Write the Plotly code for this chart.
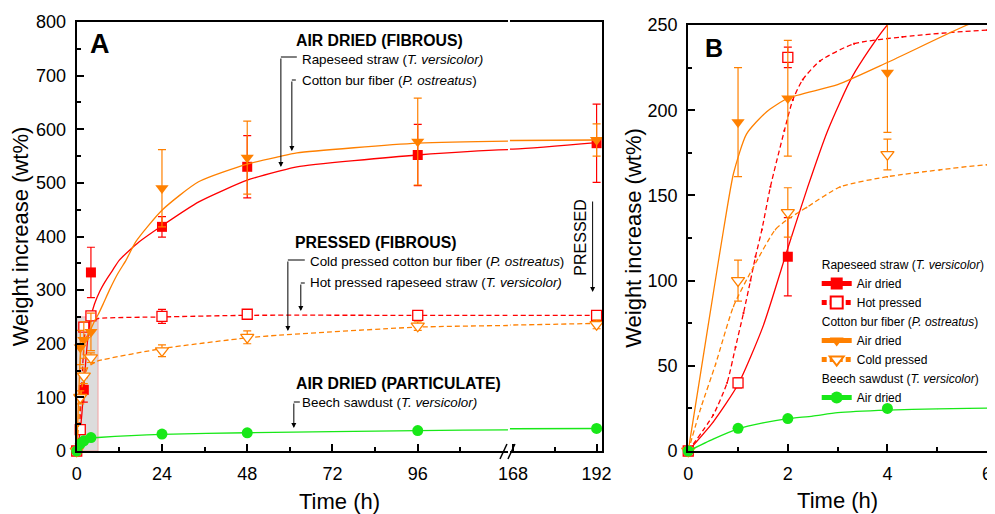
import plotly.graph_objects as go

# the page body has an 8 px margin, so the figure is placed at (8, 8) in the 995x514 window
W, H = 995, 514
OFF = 8
FW, FH = W - OFF, H - OFF
FONT = "Liberation Sans, Arial, sans-serif"
RED = "#ff0000"
ORANGE = "#ff8000"
GREEN = "#18e818"

# ---------------- measured data points (time in h, weight increase in wt%) ----------------
t_pts = [0, 1, 2, 4, 24, 48, 96, 192]
rape_air_t = [0, 2, 4, 24, 48, 96, 192]
rape_air = [0, 114, 333, 418, 530, 552, 574]
rape_air_err = [0, 23, 47, 19, 58, 57, 73]
rape_hot = [0, 40, 231, 252, 251, 255, 253, 253]
rape_hot_err = [0, 3, 6, 8, 13, 6, 5, 6]
cot_air = [0, 193, 207, 222, 490, 547, 577, 580]
cot_air_err = [0, 32, 34, 35, 72, 68, 81, 30]
cot_cold = [0, 100, 140, 174, 187, 212, 233, 236]
cot_cold_err = [0, 12, 14.5, 9, 11, 12, 8, 8]
beech = [0, 13.3, 19, 25, 31.5, 34, 38, 42]

# ---------------- fitted curves ----------------
rape_air_fit_t = [0, 0.5, 1, 1.5, 2, 2.4, 2.8, 3.3, 4, 5, 6.5, 8, 10, 12, 17.6, 24, 34.5, 48, 57, 62, 96, 121.4, 168, 192]
rape_air_fit = [0, 17, 39, 73, 119, 155, 188, 220, 250, 274, 298, 316, 336, 356, 390, 420, 465, 505, 522, 530, 552, 562, 563, 575]
rape_hot_fit_t = [0, 0.5, 0.78, 0.95, 1.11, 1.25, 1.35, 1.48, 1.65, 1.93, 2.1, 2.3, 2.65, 3.33, 4.3, 6, 24, 48, 96, 121.4, 168, 192]
rape_hot_fit = [0, 21, 40, 61, 81, 100, 114, 130, 155, 188, 206, 218, 229, 239, 243, 247, 250, 253, 253, 253, 253, 253]
cot_air_fit_t = [0, 0.25, 0.5, 0.71, 0.91, 1.17, 1.57, 2, 3, 4, 5.6, 6, 7.5, 9.2, 11.5, 13.9, 16.6, 24, 34.3, 48, 57, 62, 96, 121.4, 168, 192]
cot_air_fit = [0, 46, 92, 130, 163, 186, 199, 207, 215, 228, 250, 254, 275, 300, 330, 356, 390, 449, 502, 535, 549, 556, 574, 578, 579, 580]
cot_cold_fit_t = [0, 0.25, 0.55, 0.91, 1.31, 1.75, 2, 2.38, 3.05, 4, 5.05, 6, 24, 48, 57, 96, 121.4, 168, 192]
cot_cold_fit = [0, 25, 51, 85, 108, 130, 136, 143, 155, 161, 165, 168, 191, 211, 216, 231, 234, 235, 238]
beech_fit_t = [0, 0.5, 1, 1.5, 2, 2.5, 3, 4, 5, 6, 24, 48, 96, 121.4, 168, 192]
beech_fit = [0, 7, 13, 16.5, 19, 20.5, 22.5, 24, 24.7, 25.2, 31, 34, 38, 39.5, 41.5, 42]

# tick labels
a_xticks1 = [0, 24, 48, 72, 96]
a_xminor1 = [12, 36, 60, 84, 108]
a_xticks2 = [168, 192]
a_xminor2 = [180]


def px(x):
    return (x - OFF) / FW


def py(y):
    return 1 - (y - OFF) / FH


XA1 = [px(77), px(510)]
XA2 = [px(512), px(604)]
XB = [px(691), px(991)]
YA = [py(451), py(22)]
YB = [py(451), py(25)]
RA1 = [0, 121.4]
RA2 = [167.14, 193.43]
RB_X = [0, 6]
RA_Y = [0, 800]
RB_Y = [0, 250]

series = [
    dict(name="Air dried", group="rape", gtitle="Rapeseed straw (<i>T. versicolor</i>)", color=RED,
         symbol="square", size=10, filled=True, dash="solid",
         t=rape_air_t, v=rape_air, err=rape_air_err, ft=rape_air_fit_t, fv=rape_air_fit),
    dict(name="Hot pressed", group="rape", gtitle="Rapeseed straw (<i>T. versicolor</i>)", color=RED,
         symbol="square", size=10, filled=False, dash="5px,3px",
         t=t_pts, v=rape_hot, err=rape_hot_err, ft=rape_hot_fit_t, fv=rape_hot_fit),
    dict(name="Air dried", group="cot", gtitle="Cotton bur fiber (<i>P. ostreatus</i>)", color=ORANGE,
         symbol="triangle-down", size=11.5, filled=True, dash="solid",
         t=t_pts, v=cot_air, err=cot_air_err, ft=cot_air_fit_t, fv=cot_air_fit),
    dict(name="Cold pressed", group="cot", gtitle="Cotton bur fiber (<i>P. ostreatus</i>)", color=ORANGE,
         symbol="triangle-down", size=11.5, filled=False, dash="5px,3px",
         t=t_pts, v=cot_cold, err=cot_cold_err, ft=cot_cold_fit_t, fv=cot_cold_fit),
    dict(name="Air dried", group="beech", gtitle="Beech sawdust (<i>T. versicolor</i>)", color=GREEN,
         symbol="circle", size=11, filled=True, dash="solid",
         t=t_pts, v=beech, err=None, ft=beech_fit_t, fv=beech_fit),
]

panels = [
    dict(xa="x", ya="y", xr=RA1, yr=RA_Y, legend=False),
    dict(xa="x3", ya="y3", xr=RA2, yr=RA_Y, legend=False),
    dict(xa="x2", ya="y2", xr=RB_X, yr=RB_Y, legend=True),
]

fig = go.Figure()

for p in panels:
    for s in series:
        if s["filled"]:
            marker = dict(symbol=s["symbol"], size=s["size"], color=s["color"], line=dict(width=0))
        else:
            marker = dict(symbol=s["symbol"], size=s["size"], color="white",
                          line=dict(color=s["color"], width=1.3))
        # fitted curve (also carries the legend entry in panel B)
        tiny = dict(marker)
        tiny["size"] = 0.5
        fig.add_trace(go.Scatter(
            x=s["ft"], y=s["fv"], xaxis=p["xa"], yaxis=p["ya"],
            mode="lines+markers" if p["legend"] else "lines",
            marker=tiny,
            line=dict(color=s["color"], width=1.3, dash=s["dash"], shape="spline", smoothing=0.6),
            name=s["name"], legendgroup=s["group"],
            legendgrouptitle=dict(text=s["gtitle"], font=dict(family=FONT, size=12, color="black")),
            showlegend=p["legend"], hoverinfo="skip"))
        # measured points within the panel's ranges
        idx = [i for i, (tt, vv) in enumerate(zip(s["t"], s["v"]))
               if p["xr"][0] - 0.01 <= tt <= p["xr"][1] and vv <= p["yr"][1]]
        xs = [s["t"][i] for i in idx]
        ys = [s["v"][i] for i in idx]
        err = None
        if s["err"] is not None:
            err = dict(type="data", array=[s["err"][i] for i in idx], visible=True,
                       color=s["color"], thickness=1.2, width=4)
        fig.add_trace(go.Scatter(
            x=xs, y=ys, xaxis=p["xa"], yaxis=p["ya"], mode="markers", marker=marker,
            error_y=err, cliponaxis=False, showlegend=False, name=s["name"]))

axis_common = dict(showline=True, linecolor="black", linewidth=2, ticks="inside", tickcolor="black",
                   tickwidth=1.5, ticklen=7, showgrid=False, zeroline=False, automargin=False,
                   tickfont=dict(family=FONT, size=18, color="black"), ticklabelstandoff=5)
minor_common = dict(ticks="inside", ticklen=4, tickcolor="black", tickwidth=1.5, showgrid=False)
title_font = dict(family=FONT, size=22, color="black")

fig.update_layout(
    width=FW, height=FH,
    margin=dict(l=0, r=0, t=0, b=0, pad=0),
    paper_bgcolor="white", plot_bgcolor="white",
    font=dict(family=FONT, color="black"),
    showlegend=True,
    legend=dict(x=px(820), y=py(250), xanchor="left", yanchor="top", bgcolor="rgba(0,0,0,0)",
                font=dict(family=FONT, size=12, color="black"), itemsizing="constant",
                tracegroupgap=0, traceorder="grouped", itemwidth=30,
                grouptitlefont=dict(family=FONT, size=12, color="black")),
    xaxis=dict(axis_common, domain=XA1, range=RA1, anchor="y", tickmode="array", tickvals=a_xticks1,
               minor=dict(minor_common, tickmode="array", tickvals=a_xminor1), mirror=True),
    xaxis3=dict(axis_common, domain=XA2, range=RA2, anchor="y3", tickmode="array", tickvals=a_xticks2,
                minor=dict(minor_common, tickmode="array", tickvals=a_xminor2), mirror=True),
    yaxis=dict(axis_common, domain=YA, range=RA_Y, anchor="x", dtick=100,
               minor=dict(minor_common, dtick=50),
               title=dict(text="Weight increase (wt%)", font=title_font, standoff=3)),
    yaxis3=dict(domain=YA, range=RA_Y, anchor="x3", side="right", showline=True, linecolor="black",
                linewidth=2, ticks="", showticklabels=False, showgrid=False, zeroline=False),
    xaxis2=dict(axis_common, domain=XB, range=RB_X, anchor="y2", dtick=2,
                minor=dict(minor_common, dtick=1), mirror=True,
                title=dict(text="Time (h)", font=title_font, standoff=10)),
    yaxis2=dict(axis_common, domain=YB, range=RB_Y, anchor="x2", dtick=50,
                minor=dict(minor_common, dtick=25), mirror=True,
                title=dict(text="Weight increase (wt%)", font=title_font, standoff=0)),
)

shapes = []
# zoom region of panel B shown in panel A
shapes.append(dict(type="rect", xref="x", yref="y", x0=RB_X[0], x1=RB_X[1], y0=RB_Y[0], y1=RB_Y[1],
                   fillcolor="#dcdcdc", line=dict(color="#f2a3a3", width=1), layer="below"))
# axis break marks
for (x0, y0, x1, y1) in [(502, 459, 509, 444), (510, 459, 517, 444)]:
    shapes.append(dict(type="line", xref="paper", yref="paper", x0=px(x0), y0=py(y0), x1=px(x1), y1=py(y1),
                       line=dict(color="black", width=1.5)))

annotations = []


def label(text, x, y, size=13.4, **kw):
    annotations.append(dict(text=text, x=px(x), y=py(y), xref="paper", yref="paper", showarrow=False,
                            xanchor=kw.pop("xanchor", "left"), yanchor="middle",
                            font=dict(family=FONT, size=size, color="black"), **kw))


def arrow(xh0, xh1, yh, ytip):
    # horizontal leader then vertical arrow pointing down
    if xh1 is not None:
        shapes.append(dict(type="line", xref="paper", yref="paper", x0=px(xh0), x1=px(xh1), y0=py(yh), y1=py(yh),
                           line=dict(color="black", width=1)))
    annotations.append(dict(text="", x=px(xh0), y=py(ytip), xref="paper", yref="paper", showarrow=True,
                            ax=0, ay=-(ytip - yh), arrowhead=2, arrowsize=1, arrowwidth=1,
                            arrowcolor="black", standoff=0))


label("<b>A</b>", 100, 44, size=27, xanchor="center")
label("<b>B</b>", 717, 48, size=25, xanchor="center")

label("<b>AIR DRIED (FIBROUS)</b>", 295, 41, size=15.8)
label("Rapeseed straw (<i>T. versicolor)</i>", 301, 60)
label("Cotton bur fiber (<i>P. ostreatus</i>)", 301, 80)
arrow(282, 298, 57, 167)
arrow(293, 297, 80, 151)

label("<b>PRESSED (FIBROUS)</b>", 294, 242, size=15.8)
label("Cold pressed cotton bur fiber (<i>P. ostreatus</i>)", 309, 261)
label("Hot pressed rapeseed straw (<i>T. versicolor)</i>", 309, 282)
arrow(289, 306, 260, 331)
arrow(302, 306, 283, 311)

label("<b>AIR DRIED (PARTICULATE)</b>", 295, 383, size=15.8)
label("Beech sawdust (<i>T. versicolor)</i>", 301, 402)
arrow(295, 301, 402, 428)

label("PRESSED", 582, 238, size=16, xanchor="center", textangle=-90)
arrow(595, None, 200, 292)

label("Time (h)", 341, 501, size=22, xanchor="center")

fig.update_layout(shapes=shapes, annotations=annotations)

fig.write_html("out.html")
